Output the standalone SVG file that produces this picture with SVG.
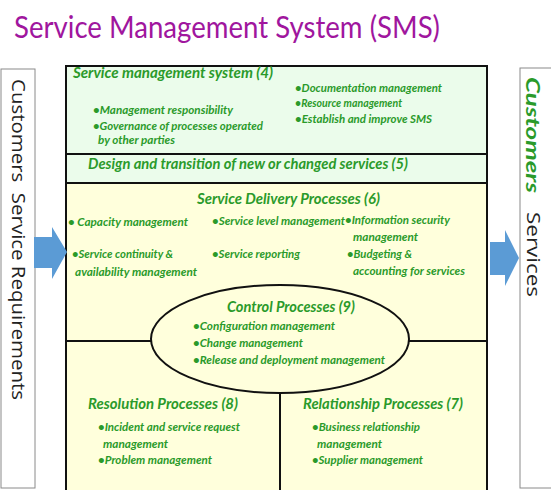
<svg xmlns="http://www.w3.org/2000/svg" width="551" height="490" viewBox="0 0 551 490">
<style>
.g{font-family:Lato,"Liberation Sans",sans-serif;font-weight:bold;font-style:italic;fill:#2a9a2a}
.h{font-size:15px}
.i{font-size:12px}
.sec{stroke:#111;stroke-width:2}
.side{fill:#fff;stroke:#8a8a8a;stroke-width:1}
.vt{font-family:"Open Sans","Noto Sans",sans-serif;font-size:18px;fill:#222}
.arr{fill:#5b9bd5}
</style>
<rect width="551" height="490" fill="#fff"/>
<g id="title">
<text x="14" y="38" font-family="Lato,'Noto Sans',sans-serif" font-size="30" fill="#a0169e" textLength="426" lengthAdjust="spacingAndGlyphs">Service Management System (SMS)</text>
</g>
<g id="customers-in">
<rect class="side" x="1" y="69" width="34" height="419"/>
<text class="vt" xml:space="preserve" transform="translate(12,79) rotate(90)" textLength="321" lengthAdjust="spacingAndGlyphs">Customers  Service Requirements</text>
</g>
<g id="customers-out">
<rect class="side" x="520" y="68" width="34" height="420"/>
<text transform="translate(526,77) rotate(90)" font-family="Lato,sans-serif" font-weight="bold" font-style="italic" font-size="18" fill="#2a9a2a" textLength="116" lengthAdjust="spacingAndGlyphs">Customers</text>
<text class="vt" transform="translate(527,212) rotate(90)" textLength="85" lengthAdjust="spacingAndGlyphs">Services</text>
</g>
<g id="sms4">
<rect class="sec" x="66" y="66" width="421" height="88" fill="#ebfceb"/>
<text class="g h" x="73" y="78" textLength="200" lengthAdjust="spacingAndGlyphs">Service management system (4)</text>
<text class="g i" x="93" y="114" textLength="140" lengthAdjust="spacingAndGlyphs">•Management responsibility</text>
<text class="g i" x="93" y="130" textLength="170" lengthAdjust="spacingAndGlyphs">•Governance of processes operated</text>
<text class="g i" x="98" y="144" textLength="77" lengthAdjust="spacingAndGlyphs">by other parties</text>
<text class="g i" x="295" y="92" textLength="147" lengthAdjust="spacingAndGlyphs">•Documentation management</text>
<text class="g i" x="295" y="107" textLength="107" lengthAdjust="spacingAndGlyphs">•Resource management</text>
<text class="g i" x="295" y="123" textLength="137" lengthAdjust="spacingAndGlyphs">•Establish and improve SMS</text>
</g>
<g id="design5">
<rect class="sec" x="66" y="154" width="421" height="29" fill="#ebfceb"/>
<text class="g h" x="88" y="169" textLength="320" lengthAdjust="spacingAndGlyphs">Design and transition of new or changed services (5)</text>
</g>
<g id="delivery6">
<rect class="sec" x="66" y="183" width="421" height="312" fill="#ffffdc"/>
<text class="g h" x="197" y="204" textLength="183" lengthAdjust="spacingAndGlyphs">Service Delivery Processes (6)</text>
<text class="g i" x="68" y="226" textLength="120" lengthAdjust="spacingAndGlyphs">• Capacity management</text>
<text class="g i" x="212" y="225" textLength="133" lengthAdjust="spacingAndGlyphs">•Service level management</text>
<text class="g i" x="345" y="224" textLength="105" lengthAdjust="spacingAndGlyphs">•Information security</text>
<text class="g i" x="353" y="241" textLength="65" lengthAdjust="spacingAndGlyphs">management</text>
<text class="g i" x="72" y="258" textLength="101" lengthAdjust="spacingAndGlyphs">•Service continuity &amp;</text>
<text class="g i" x="75" y="276" textLength="122" lengthAdjust="spacingAndGlyphs">availability management</text>
<text class="g i" x="212" y="258" textLength="88" lengthAdjust="spacingAndGlyphs">•Service reporting</text>
<text class="g i" x="347" y="258" textLength="65" lengthAdjust="spacingAndGlyphs">•Budgeting &amp;</text>
<text class="g i" x="353" y="275" textLength="112" lengthAdjust="spacingAndGlyphs">accounting for services</text>
</g>
<g id="dividers">
<line class="sec" x1="66" y1="341" x2="487" y2="341"/>
<line class="sec" x1="280" y1="390" x2="280" y2="495"/>
</g>
<g id="control9">
<ellipse class="sec" cx="280" cy="339" rx="129" ry="54" fill="#ffffdc"/>
<text class="g h" x="227" y="312" textLength="128" lengthAdjust="spacingAndGlyphs">Control Processes (9)</text>
<text class="g i" x="193" y="330" textLength="142" lengthAdjust="spacingAndGlyphs">•Configuration management</text>
<text class="g i" x="193" y="347" textLength="110" lengthAdjust="spacingAndGlyphs">•Change management</text>
<text class="g i" x="193" y="364" textLength="192" lengthAdjust="spacingAndGlyphs">•Release and deployment management</text>
</g>
<g id="resolution8">
<text class="g h" x="88" y="409" textLength="150" lengthAdjust="spacingAndGlyphs">Resolution Processes (8)</text>
<text class="g i" x="98" y="431" textLength="142" lengthAdjust="spacingAndGlyphs">•Incident and service request</text>
<text class="g i" x="103" y="448" textLength="65" lengthAdjust="spacingAndGlyphs">management</text>
<text class="g i" x="98" y="464" textLength="114" lengthAdjust="spacingAndGlyphs">•Problem management</text>
</g>
<g id="relationship7">
<text class="g h" x="303" y="409" textLength="160" lengthAdjust="spacingAndGlyphs">Relationship Processes (7)</text>
<text class="g i" x="312" y="431" textLength="108" lengthAdjust="spacingAndGlyphs">•Business relationship</text>
<text class="g i" x="317" y="448" textLength="65" lengthAdjust="spacingAndGlyphs">management</text>
<text class="g i" x="312" y="464" textLength="111" lengthAdjust="spacingAndGlyphs">•Supplier management</text>
</g>
<g id="connectors">
<polygon class="arr" points="34,237 52,237 52,227 67,252 52,279 52,268 34,268"/>
<polygon class="arr" points="490,242 505,242 505,230 519,258 505,286 505,275 490,275"/>
</g>
</svg>
